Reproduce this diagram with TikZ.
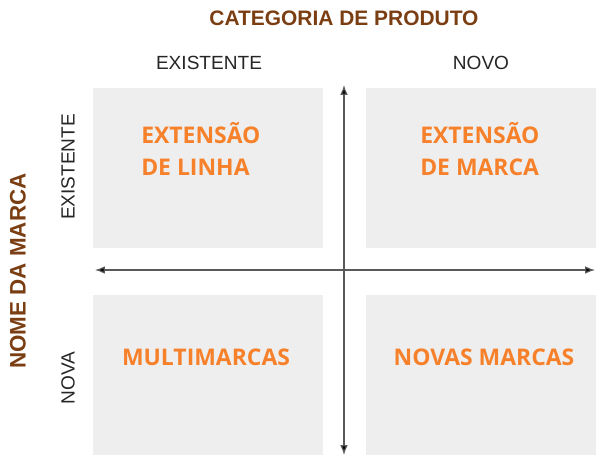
\documentclass[tikz,border=0pt]{standalone}
\usepackage{fontspec}
\usepackage{xcolor}
\usepackage{tikz}
\usetikzlibrary{arrows.meta, positioning}
\setmainfont{Liberation Sans}
\newfontfamily\quadfont{Open Sans}
\definecolor{brandbrown}{HTML}{7A3E12}
\definecolor{brandorange}{HTML}{F7812A}
\definecolor{quadgray}{HTML}{EEEEEE}

\begin{document}
\begin{tikzpicture}[
    x=0.75pt, y=-0.75pt,
    quad/.style={rectangle, fill=quadgray, draw=none, minimum width=172.5pt, minimum height=120pt, inner sep=0pt},
    axistitle/.style={font=\fontsize{15.7}{18}\selectfont\bfseries, text=brandbrown, inner sep=0pt},
    axisword/.style={font=\fontsize{14.3}{16}\selectfont, text=black!85, inner sep=0pt},
    quadlabel/.style={font=\quadfont\fontsize{17.2}{24}\selectfont\bfseries, text=brandorange, inner sep=0pt},
    axis/.style={draw=black!65, line width=0.9pt, {Latex[length=2.6mm, width=2mm, fill=black]}-{Latex[length=2.6mm, width=2mm, fill=black]}}
]
    \useasboundingbox (0,0) rectangle (612,467);

    % Quadrants
    \node [quad] (tl) at (208,168) {};
    \node [quad] (tr) at (481,168) {};
    \node [quad] (bl) at (208,375) {};
    \node [quad] (br) at (481,375) {};

    % Axes
    \coordinate (vtop) at (344,85);
    \coordinate (vbot) at (344,455);
    \coordinate (hleft) at (95,270);
    \coordinate (hright) at (595,270);
    \path [axis] (vtop) -- (vbot);
    \path [axis] (hleft) -- (hright);

    % Axis titles
    \node [axistitle] (cat) at (344,18) {CATEGORIA DE PRODUTO};
    \node [axistitle, font=\fontsize{16.8}{18}\selectfont\bfseries, rotate=90] (marca) at (18,271) {NOME DA MARCA};

    % Axis words
    \node [axisword] (colold) at (209,63) {EXISTENTE};
    \node [axisword] (colnew) at (481,63) {NOVO};
    \node [axisword, rotate=90] (rowold) at (68,167) {EXISTENTE};
    \node [axisword, rotate=90] (rownew) at (68,378) {NOVA};

    % Quadrant labels
    \node [quadlabel, align=left, anchor=west] (linha) at (141,149) {EXTENSÃO\\DE LINHA};
    \node [quadlabel, align=left, anchor=west] (marcaext) at (420,149) {EXTENSÃO\\DE MARCA};
    \node [quadlabel] (multi) at (206,357) {MULTIMARCAS};
    \node [quadlabel] (novas) at (484,357) {NOVAS MARCAS};

\end{tikzpicture}
\end{document}
